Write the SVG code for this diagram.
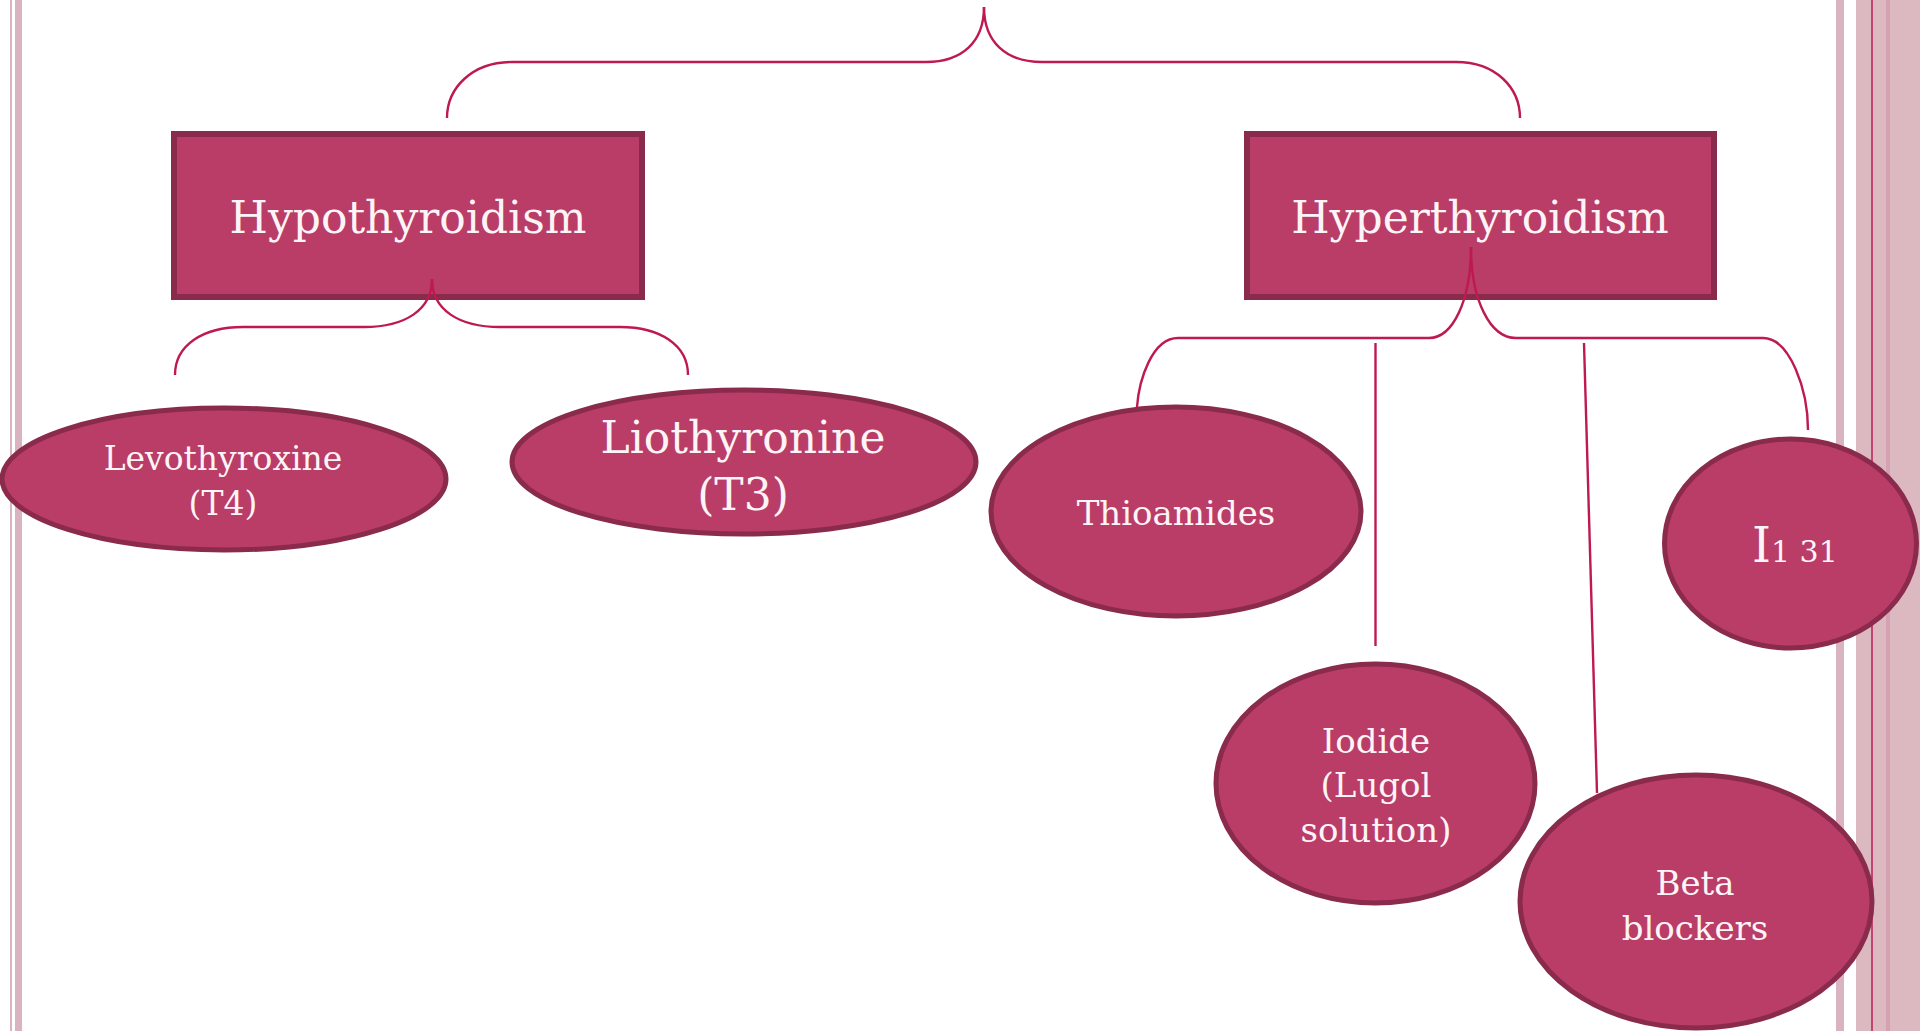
<svg xmlns="http://www.w3.org/2000/svg" width="1920" height="1031" viewBox="0 0 1920 1031">
<style>
.box{fill:#b93d66;stroke:#8a2a4d;stroke-width:6}
.oval{fill:#b93d66;stroke:#8a2a4d;stroke-width:5}
.lbl{font-family:"DejaVu Serif","Liberation Serif",serif;fill:#fdf4f7;text-anchor:middle}
.conn{fill:none;stroke:#bf1a50;stroke-width:2.4}
.stripe{fill:#dab3c0}
</style>
<rect width="1920" height="1031" fill="#ffffff"/>
<g id="border">
<rect class="stripe" x="10" y="0" width="2" height="1031"/>
<rect class="stripe" x="15" y="0" width="7" height="1031"/>
<rect class="stripe" x="1836" y="0" width="8" height="1031"/>
<rect x="1856" y="0" width="64" height="1031" fill="#dcb8c0"/>
<rect x="1871" y="0" width="2" height="1031" fill="#c1456f"/>
<rect x="1886" y="0" width="4" height="1031" fill="#d4a2b1"/>
</g>
<g id="hypothyroidism">
<rect class="box" x="174" y="134" width="468" height="163"/>
<text class="lbl" x="408" y="233" font-size="44">Hypothyroidism</text>
</g>
<g id="hyperthyroidism">
<rect class="box" x="1247" y="134" width="467" height="163"/>
<text class="lbl" x="1480" y="233" font-size="44">Hyperthyroidism</text>
</g>
<g id="levothyroxine">
<ellipse class="oval" cx="224" cy="479" rx="222" ry="71"/>
<text class="lbl" x="223" y="470" font-size="33">Levothyroxine</text>
<text class="lbl" x="223" y="515" font-size="33">(T4)</text>
</g>
<g id="liothyronine">
<ellipse class="oval" cx="744" cy="462" rx="232" ry="72"/>
<text class="lbl" x="743" y="453" font-size="44">Liothyronine</text>
<text class="lbl" x="743" y="510" font-size="44">(T3)</text>
</g>
<g id="thioamides">
<ellipse class="oval" cx="1176" cy="511.5" rx="185" ry="104.5"/>
<text class="lbl" x="1176" y="525" font-size="34">Thioamides</text>
</g>
<g id="iodide">
<ellipse class="oval" cx="1375.5" cy="783.5" rx="159.5" ry="119.5"/>
<text class="lbl" x="1376" y="753" font-size="34">Iodide</text>
<text class="lbl" x="1376" y="797" font-size="34">(Lugol</text>
<text class="lbl" x="1376" y="842" font-size="34">solution)</text>
</g>
<g id="i131">
<ellipse class="oval" cx="1790.5" cy="543.5" rx="126" ry="104.5"/>
<text class="lbl" x="1752" y="562" style="text-anchor:start"><tspan font-size="48">I</tspan><tspan font-size="30">1 31</tspan></text>
</g>
<g id="beta-blockers">
<ellipse class="oval" cx="1696" cy="901.5" rx="176" ry="126.5"/>
<text class="lbl" x="1695" y="895" font-size="34">Beta</text>
<text class="lbl" x="1695" y="940" font-size="34">blockers</text>
</g>
<g id="connectors">
<path class="conn" d="M984 7 C984 42 962 62 926 62 L512 62 C472 62 447 88 447 118"/>
<path class="conn" d="M984 7 C984 42 1006 62 1042 62 L1456 62 C1496 62 1520 88 1520 118"/>
<path class="conn" d="M432 279 C432 310 405 327 364 327 L243 327 C203 327 175 345 175 375"/>
<path class="conn" d="M432 279 C432 310 459 327 500 327 L620 327 C660 327 688 345 688 375"/>
<path class="conn" d="M1471 247 C1471 300 1453 338 1429 338 L1178 338 C1152 338 1139 380 1137 407"/>
<path class="conn" d="M1471 247 C1471 300 1490 338 1516 338 L1763 338 C1790 338 1808 390 1808 430"/>
<line class="conn" x1="1375.5" y1="343" x2="1375.5" y2="646"/>
<line class="conn" x1="1584" y1="343" x2="1597" y2="793"/>
</g>
</svg>
